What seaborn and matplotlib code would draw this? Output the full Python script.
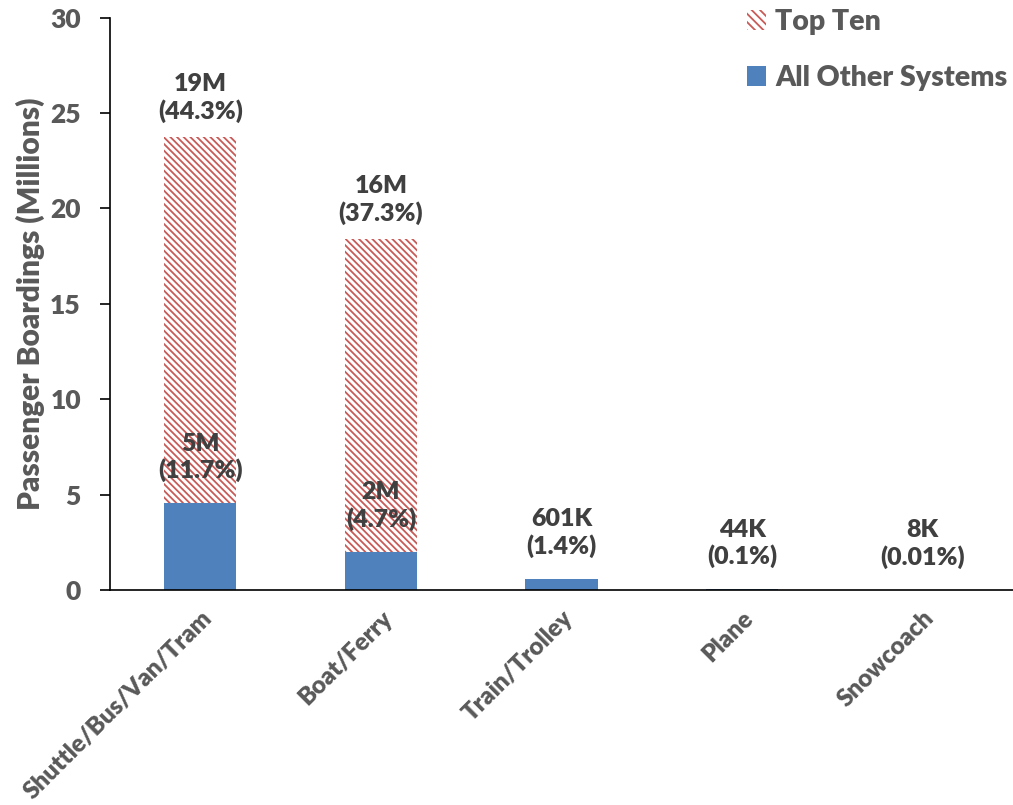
import matplotlib
matplotlib.use("Agg")
import matplotlib.pyplot as plt
import seaborn as sns
import pandas as pd
from matplotlib.patches import Patch

# Passenger boardings by transportation mode (millions)
modes = ["Shuttle/Bus/Van/Tram", "Boat/Ferry", "Train/Trolley", "Plane", "Snowcoach"]
other_systems = [4.56, 2.02, 0.601, 0.044, 0.008]
top_ten = [19.2, 16.4, 0.0, 0.0, 0.0]
other_labels = ["5M\n(11.7%)", "2M\n(4.7%)", "601K\n(1.4%)", "44K\n(0.1%)", "8K\n(0.01%)"]
top_labels = ["19M\n(44.3%)", "16M\n(37.3%)", "", "", ""]
y_ticks = [0, 5, 10, 15, 20, 25, 30]

sns.set_style("white")
plt.rcParams["font.family"] = ["Lato", "DejaVu Sans"]
plt.rcParams["hatch.linewidth"] = 1.3

gray = "#595959"
blue = "#4F81BD"
red = "#C85A58"
weight = "heavy"

df = pd.DataFrame({
    "mode": modes,
    "other": other_systems,
    "top": top_ten,
})
df["total"] = df["other"] + df["top"]

fig = plt.figure(figsize=(10.13, 8.05), dpi=100)
ax = fig.add_axes([0.1086, 0.267, 0.8914, 0.711])

sns.barplot(data=df, x="mode", y="total", ax=ax, color="white", width=0.4,
            edgecolor=red, linewidth=0, hatch="\\\\\\\\\\", saturation=1)
sns.barplot(data=df, x="mode", y="other", ax=ax, color=blue, width=0.4,
            linewidth=0, saturation=1)

label_style = dict(ha="center", va="bottom", fontsize=18, fontweight=weight,
                   color="#404040", linespacing=1.2, textcoords="offset points")
for i, row in df.iterrows():
    if top_labels[i]:
        ax.annotate(top_labels[i], (i, row["total"]), xytext=(0, 10), **label_style)
    ax.annotate(other_labels[i], (i, row["other"]), xytext=(0, 15), **label_style)

ax.set_ylim(0, 30)
ax.set_xlim(-0.5, 4.5)
ax.set_yticks(y_ticks)
ax.set_yticklabels([str(t) for t in y_ticks], fontsize=19, fontweight=weight, color=gray)
ax.set_xticks(range(len(modes)))
ax.set_xticklabels(modes, rotation=45, ha="right", rotation_mode="anchor",
                   fontsize=17.5, fontweight=weight, color=gray)
ax.set_xlabel("")
ax.set_ylabel("Passenger Boardings (Millions)", fontsize=21.5, fontweight=weight,
              color=gray, labelpad=4)

for side in ["top", "right"]:
    ax.spines[side].set_visible(False)
for side in ["left", "bottom"]:
    ax.spines[side].set_color("black")
    ax.spines[side].set_linewidth(1.2)
ax.tick_params(axis="y", which="major", direction="out", length=7, width=1.2,
               color="black", left=True, pad=14)
ax.tick_params(axis="x", length=0, pad=12)

handles = [
    Patch(facecolor="white", edgecolor=red, linewidth=0, hatch="\\\\\\\\"),
    Patch(facecolor=blue, edgecolor=blue, linewidth=0),
]
ax.legend(handles, ["Top Ten", "All Other Systems"], loc="upper right",
          bbox_to_anchor=(1.022, 1.06), frameon=False, handlelength=0.7,
          handleheight=0.75, handletextpad=0.3, labelspacing=1.05,
          prop={"size": 20.5, "weight": weight}, labelcolor=gray)

fig.savefig("out.png", dpi=100)
